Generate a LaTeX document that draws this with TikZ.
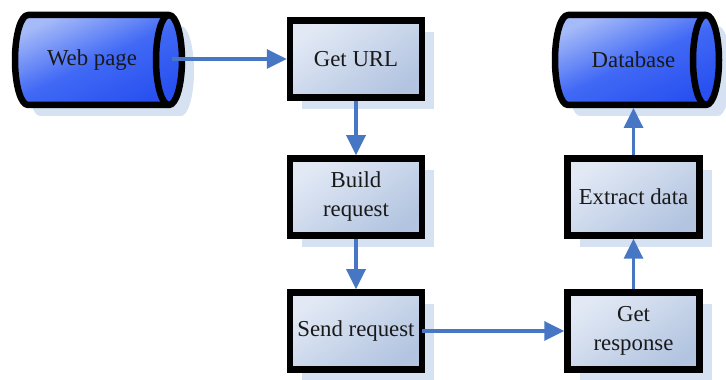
\documentclass[tikz,border=0pt]{standalone}
\usepackage{fontspec}
\setmainfont{Liberation Serif}
\usetikzlibrary{arrows.meta,shadows}
\definecolor{flowblue}{RGB}{70,118,196}
\definecolor{boxlight}{RGB}{226,233,245}
\definecolor{boxdark}{RGB}{178,196,224}
\definecolor{drumlight}{RGB}{165,186,248}
\definecolor{drummid}{RGB}{65,105,245}
\definecolor{drumdark}{RGB}{40,80,240}
\definecolor{shade}{RGB}{214,225,242}
\definecolor{ink}{RGB}{25,25,25}
\tikzset{
  stepbox/.style={rectangle, draw=black, line width=6.5pt,
    minimum width=132pt, minimum height=77pt, inner sep=0pt,
    top color=boxlight, bottom color=boxdark, shading angle=35,
    drop shadow={shadow xshift=12pt, shadow yshift=-12pt, fill=shade, opacity=1},
    align=center, text=ink, font=\fontsize{22.8}{29}\selectfont},
  drumtext/.style={text=ink, font=\fontsize{22.8}{29}\selectfont},
  drumbody/.style={draw=black, line width=6.5pt, line join=round,
    top color=drumlight, bottom color=drumdark, middle color=drummid, shading angle=25},
  drumshadow/.style={fill=shade},
  flow/.style={draw=flowblue, line width=3.5pt,
    -{Triangle[length=20pt,width=19pt]}}
}
% horizontal drum: #1 left, #2 right, #3 bottom, #4 top, end radius 13
\newcommand\drumoutline[4]{%
  ({#1+13},#4) -- ({#2-13},#4)
  arc[start angle=90, end angle=-90, x radius=13, y radius={(#4-#3)/2}]
  -- ({#1+13},#3)
  arc[start angle=270, end angle=90, x radius=13, y radius={(#4-#3)/2}] -- cycle}
\newcommand\drum[4]{%
  \fill[drumshadow, shift={(12pt,-11pt)}] \drumoutline{#1}{#2}{#3}{#4};
  \path[drumbody] \drumoutline{#1}{#2}{#3}{#4};
  \draw[line width=6.5pt] ({#2-13},#4)
    arc[start angle=90, end angle=270, x radius=13, y radius={(#4-#3)/2}];}
\begin{document}
\begin{tikzpicture}[x=1pt, y=1pt]
  \useasboundingbox (0,0) rectangle (726,380);
  % storage drums
  \drum{15}{182}{275}{365}
  \drum{555}{719}{275}{365}
  \node[drumtext] (webpage) at (92,320) {Web page};
  \node[drumtext] (database) at (633.5,320) {Database};
  \coordinate (webpage-cap) at (172,321);
  \coordinate (database-base) at (633.5,272);
  % processing steps
  \node[stepbox] (geturl) at (356,321) {Get URL};
  \node[stepbox] (build) at (356,183) {Build\\request};
  \node[stepbox] (send) at (356,49) {Send request};
  \node[stepbox] (extract) at (633.5,183) {Extract data};
  \node[stepbox] (response) at (633.5,49) {Get\\response};
  % data flow
  \draw[flow] (webpage-cap) -- (geturl.west);
  \draw[flow] (geturl) -- (build);
  \draw[flow] (build) -- (send);
  \draw[flow, shorten <=-3pt] (send.east) -- (response.west);
  \draw[flow] (response) -- (extract);
  \draw[flow] (extract.north) -- (database-base);
\end{tikzpicture}
\end{document}
